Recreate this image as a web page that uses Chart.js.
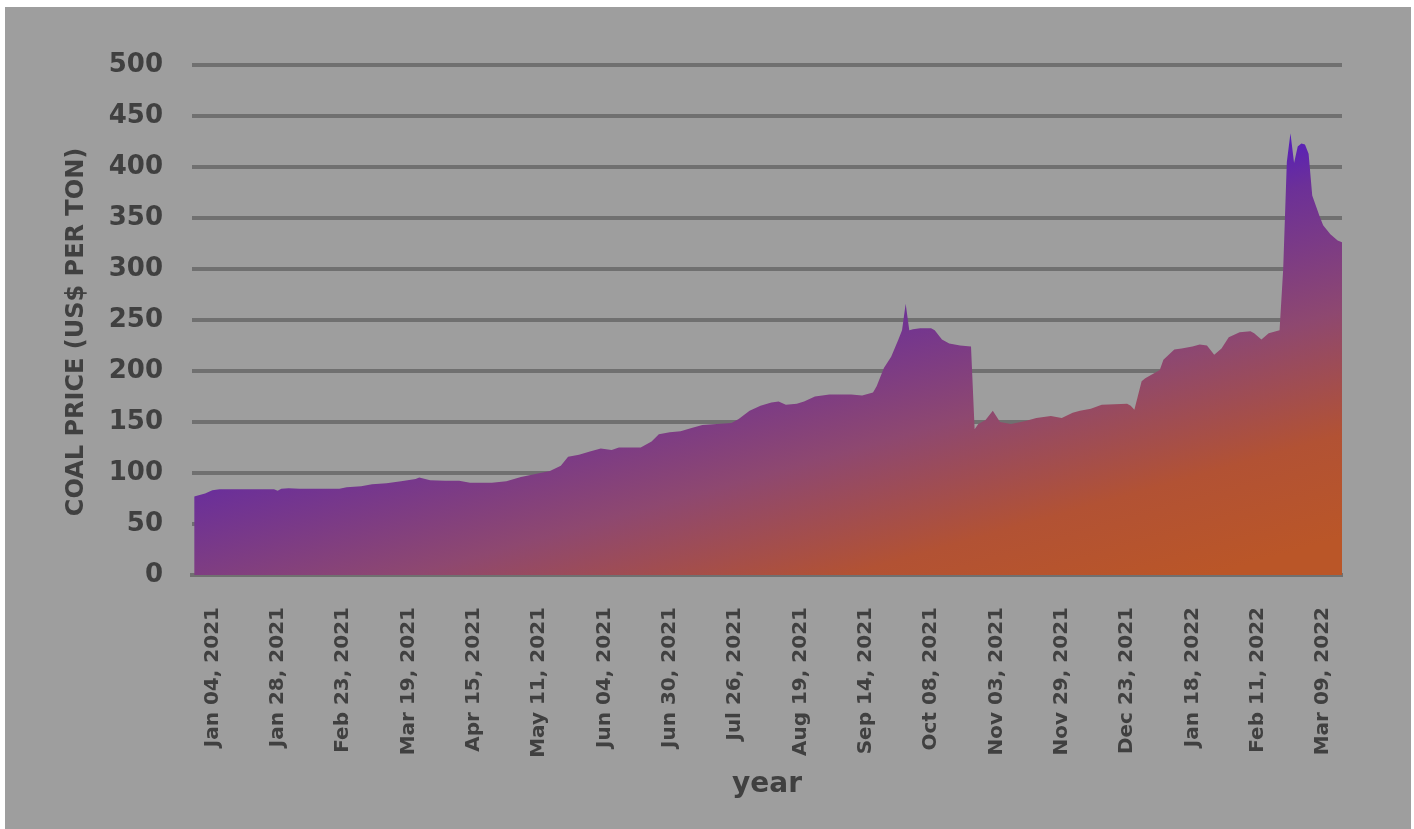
<!DOCTYPE html>
<html>
<head>
<meta charset="utf-8">
<title>Coal price</title>
<script src="https://cdn.jsdelivr.net/npm/chart.js@4.4.1/dist/chart.umd.min.js"></script>
<style>
  html, body { margin: 0; padding: 0; background: #ffffff; }
  canvas { display: block; }
</style>
</head>
<body>
<canvas id="chart" width="1414" height="829"></canvas>
<script>
// Trading-day index (0 = first session shown) and the coal price on that day
const tradingDay = [0, 1, 3, 5, 7, 22, 23, 24, 26, 29, 40, 42, 46, 49, 53, 57, 61, 62, 65, 69,
  73, 76, 82, 86, 90, 94, 98, 101, 103, 106, 109, 112, 115, 117, 123, 126, 128, 131, 134, 137,
  140, 144, 148, 150, 153, 156, 159, 161, 163, 166, 168, 171, 175, 181, 184, 187, 188, 190, 192, 194,
  195, 196, 197, 198, 200, 203, 204, 206, 208, 211, 214, 215, 216, 218, 220, 222, 225, 229, 232, 236,
  239, 242, 244, 247, 250, 257, 258, 259, 261, 262, 266, 267, 270, 272, 275, 277, 279, 281, 283, 285,
  288, 291, 292, 294, 296, 299, 300, 301, 302, 303, 304, 305, 306, 307, 308, 309, 310, 311, 313, 315, 317];

const coalPrice = [77, 78, 80, 83, 84, 84, 82.5, 84.5, 85, 84.5, 84.5, 86, 87, 89, 90, 92, 94, 95.5, 93, 92.5,
  92.5, 90.5, 90.5, 92, 96, 99, 102, 107, 116, 118, 121, 124, 122.5, 125, 125, 131, 138, 140, 141, 144,
  147, 148, 149, 153, 161, 166, 169, 170, 167, 168, 170, 175, 177, 177, 176, 179, 185, 203, 214, 231,
  240, 266, 240, 241, 242, 242, 240, 231, 227, 225, 224, 143, 148, 152, 161, 150, 148, 151, 154, 156,
  154, 159, 161, 163, 167, 168, 166, 162, 190, 193, 201, 211, 221, 222, 224, 226, 225, 216, 222, 233,
  238, 239, 237, 231, 237, 240, 300, 405, 433, 404, 420, 423, 422, 413, 372, 362, 352, 343, 334, 328, 325];

// Labelled sessions on the category axis (every 18th trading day)
const tickDay = [5, 23, 41, 59, 77, 95, 113, 131, 149, 167, 185, 203, 221, 239, 257, 275, 293, 311];
const tickLabels = ['Jan 04, 2021', 'Jan 28, 2021', 'Feb 23, 2021', 'Mar 19, 2021', 'Apr 15, 2021',
  'May 11, 2021', 'Jun 04, 2021', 'Jun 30, 2021', 'Jul 26, 2021', 'Aug 19, 2021', 'Sep 14, 2021',
  'Oct 08, 2021', 'Nov 03, 2021', 'Nov 29, 2021', 'Dec 23, 2021', 'Jan 18, 2022', 'Feb 11, 2022',
  'Mar 09, 2022'];

const yTicks = [0, 50, 100, 150, 200, 250, 300, 350, 400, 450, 500];

const FONT = "'DejaVu Sans', sans-serif";
const TEXT = '#404040';
const GRID = '#707070';

const points = tradingDay.map((d, i) => ({ x: d, y: coalPrice[i] }));

// Purple-to-orange fill running down and slightly to the right
function areaGradient(context) {
  const { ctx, chartArea } = context.chart;
  if (!chartArea) return '#8a4a80';
  const w = chartArea.right - chartArea.left;
  const h = chartArea.bottom - chartArea.top;
  const g = ctx.createLinearGradient(
    chartArea.left + 0.955 * w, chartArea.top + 0.147 * h,
    chartArea.left + 1.049 * w, chartArea.top + 0.896 * h);
  g.addColorStop(0.00, 'rgb(88, 32, 185)');
  g.addColorStop(0.12, 'rgb(108, 48, 152)');
  g.addColorStop(0.45, 'rgb(142, 72, 112)');
  g.addColorStop(0.75, 'rgb(178, 82, 52)');
  g.addColorStop(1.00, 'rgb(186, 86, 40)');
  return g;
}

const panel = {
  id: 'panel',
  beforeDraw(chart) {
    const ctx = chart.ctx;
    ctx.save();
    ctx.fillStyle = '#ffffff';
    ctx.fillRect(0, 0, chart.width, chart.height);
    ctx.fillStyle = '#9e9e9e';
    ctx.fillRect(5, 7, chart.width - 8, chart.height - 7);
    ctx.restore();
  }
};

const yTitle = {
  id: 'yTitle',
  afterDraw(chart) {
    const ctx = chart.ctx;
    ctx.save();
    ctx.translate(77, 332);
    ctx.rotate(-Math.PI / 2);
    ctx.font = 'bold 24px ' + FONT;
    ctx.fillStyle = TEXT;
    ctx.textAlign = 'center';
    ctx.textBaseline = 'middle';
    ctx.fillText('COAL PRICE (US$ PER TON)', 0, 0);
    ctx.restore();
  }
};

new Chart(document.getElementById('chart'), {
  type: 'line',
  data: {
    datasets: [{
      data: points,
      fill: 'origin',
      backgroundColor: areaGradient,
      borderWidth: 0,
      borderColor: 'rgba(0,0,0,0)',
      pointRadius: 0,
      tension: 0,
      clip: false
    }]
  },
  options: {
    responsive: false,
    animation: false,
    devicePixelRatio: 1,
    layout: { padding: { top: 65, right: 72, bottom: 0, left: 0 } },
    plugins: { legend: { display: false }, tooltip: { enabled: false } },
    scales: {
      x: {
        type: 'linear',
        min: -0.6,
        max: 316.2,
        z: 1,
        grid: { display: false, drawTicks: false },
        border: { display: true, color: GRID, width: 4 },
        afterBuildTicks(scale) { scale.ticks = tickDay.map(v => ({ value: v })); },
        afterFit(scale) { scale.height = 254; },
        ticks: {
          autoSkip: false,
          minRotation: 90,
          maxRotation: 90,
          padding: 32,
          color: TEXT,
          font: { family: FONT, size: 20, weight: 'bold' },
          callback: (v) => tickLabels[tickDay.indexOf(v)]
        },
        title: {
          display: true,
          text: 'year',
          color: TEXT,
          font: { family: FONT, size: 28, weight: 'bold' },
          padding: { top: 0, bottom: 27 }
        }
      },
      y: {
        min: 0,
        max: 500,
        afterBuildTicks(scale) { scale.ticks = yTicks.map(v => ({ value: v })); },
        afterFit(scale) { scale.width = 192; },
        grid: { color: GRID, lineWidth: 4, drawTicks: false },
        border: { display: false },
        ticks: {
          padding: 29,
          color: TEXT,
          font: { family: FONT, size: 26, weight: 'bold' }
        }
      }
    }
  },
  plugins: [panel, yTitle]
});
</script>
</body>
</html>
